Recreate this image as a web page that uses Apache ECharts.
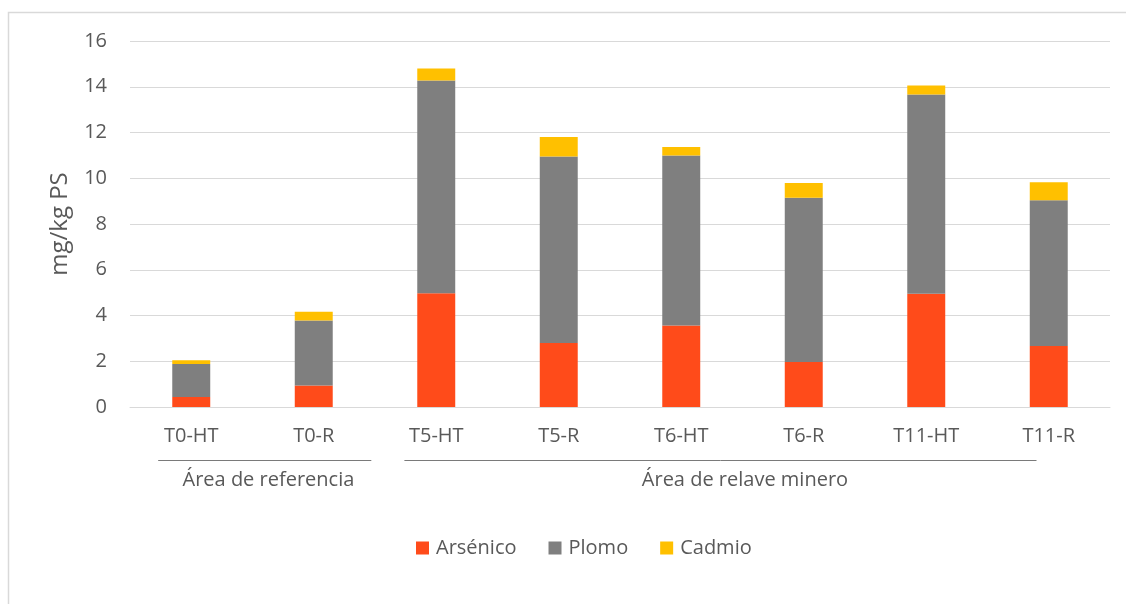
<!DOCTYPE html>
<html>
<head>
<meta charset="utf-8">
<title>Metales pesados</title>
<script src="https://cdn.jsdelivr.net/npm/echarts@6/dist/echarts.min.js"></script>
<style>
  html, body { margin: 0; padding: 0; background: #ffffff; }
  #chart { width: 1126px; height: 604px; }
</style>
</head>
<body>
<div id="chart"></div>
<script>
// Muestras y concentraciones (mg/kg PS)
const categories = ['T0-HT', 'T0-R', 'T5-HT', 'T5-R', 'T6-HT', 'T6-R', 'T11-HT', 'T11-R'];
const arsenico = [0.44, 0.94, 4.97, 2.80, 3.56, 1.97, 4.95, 2.67];
const plomo    = [1.44, 2.84, 9.30, 8.15, 7.43, 7.18, 8.71, 6.37];
const cadmio   = [0.16, 0.38, 0.53, 0.85, 0.38, 0.64, 0.39, 0.78];
const yTicks   = [0, 2, 4, 6, 8, 10, 12, 14, 16];
const groupNames = ['Área de referencia', 'Área de relave minero'];

// Horizontal placement of the group rows, in category-width units from the plot's left edge
const groupLayout = [
  { lineFrom: 0.23, lineTo: 1.97, labelAt: 1.13 },
  { lineFrom: 2.24, lineTo: 7.40, labelAt: 5.02 }
];

const FONT = '"Open Sans", "Noto Sans", sans-serif';
const TEXT = '#595959';
const SIZE = 20;

const chart = echarts.init(document.getElementById('chart'), null, { renderer: 'canvas' });

const barCommon = {
  type: 'bar',
  stack: 'total',
  barWidth: '31%',
  emphasis: { disabled: true }
};

chart.setOption({
  animation: false,
  backgroundColor: '#ffffff',
  grid: { left: 130, right: 16, top: 41, bottom: 197 },
  legend: {
    bottom: 41,
    left: 411,
    itemWidth: 13,
    itemHeight: 13,
    itemGap: 32,
    icon: 'rect',
    textStyle: { fontFamily: FONT, fontSize: SIZE, color: TEXT, padding: [0, 0, 0, 2] },
    data: ['Arsénico', 'Plomo', 'Cadmio']
  },
  xAxis: {
    type: 'category',
    data: categories,
    axisLine: { lineStyle: { color: '#d9d9d9', width: 1 } },
    axisTick: { show: false },
    axisLabel: { margin: 19, fontFamily: FONT, fontSize: SIZE, color: TEXT }
  },
  yAxis: {
    type: 'value',
    min: yTicks[0],
    max: yTicks[yTicks.length - 1],
    interval: yTicks[1] - yTicks[0],
    name: 'mg/kg PS',
    nameLocation: 'middle',
    nameRotate: 90,
    nameGap: 58,
    nameTextStyle: { fontFamily: FONT, fontSize: 24, color: TEXT },
    axisLine: { show: false },
    axisTick: { show: false },
    axisLabel: { margin: 23, fontFamily: FONT, fontSize: SIZE, color: TEXT },
    splitLine: { lineStyle: { color: '#d9d9d9', width: 1 } }
  },
  series: [
    Object.assign({ name: 'Arsénico', data: arsenico, itemStyle: { color: '#FF4B1A' } }, barCommon),
    Object.assign({ name: 'Plomo', data: plomo, itemStyle: { color: '#7F7F7F' } }, barCommon),
    Object.assign({ name: 'Cadmio', data: cadmio, itemStyle: { color: '#FFC000' } }, barCommon)
  ]
});

// Outer frame plus the grouped second row of the category axis
function drawDecorations() {
  const c0 = chart.convertToPixel({ xAxisIndex: 0 }, categories[0]);
  const c1 = chart.convertToPixel({ xAxisIndex: 0 }, categories[1]);
  const y0 = chart.convertToPixel({ yAxisIndex: 0 }, 0);
  const w = c1 - c0;
  const left = c0 - w / 2;
  const elements = [{
    type: 'rect',
    silent: true,
    shape: { x: 8.5, y: 12.5, width: 1300, height: 800 },
    style: { fill: null, stroke: '#d9d9d9', lineWidth: 1.5 }
  }];
  groupLayout.forEach(function (g, i) {
    elements.push({
      type: 'line',
      silent: true,
      shape: { x1: left + g.lineFrom * w, y1: y0 + 53.5, x2: left + g.lineTo * w, y2: y0 + 53.5 },
      style: { stroke: '#7a7a7a', lineWidth: 1 }
    });
    elements.push({
      type: 'text',
      silent: true,
      x: left + g.labelAt * w,
      y: y0 + 73,
      style: {
        text: groupNames[i],
        fontFamily: FONT,
        fontSize: SIZE,
        fill: TEXT,
        align: 'center',
        verticalAlign: 'middle'
      }
    });
  });
  chart.setOption({ graphic: { elements: elements } });
}
drawDecorations();
</script>
</body>
</html>
